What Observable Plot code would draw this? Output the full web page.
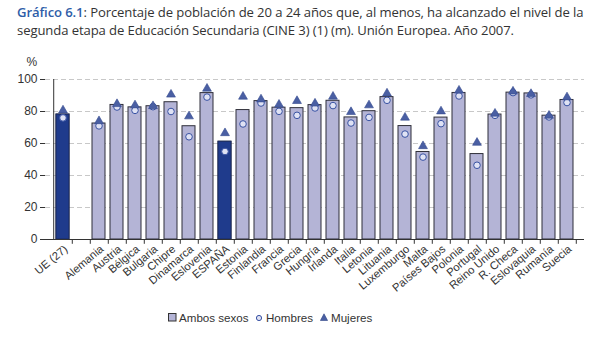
<!DOCTYPE html>
<html>
<head>
<meta charset="utf-8">
<script src="https://cdn.jsdelivr.net/npm/d3@7"></script>
<script src="https://cdn.jsdelivr.net/npm/@observablehq/plot@0.6"></script>
<style>
  html, body { margin: 0; padding: 0; background: #fff; width: 600px; height: 341px; overflow: hidden; }
  #title { font-family: "Open Sans", sans-serif; font-size: 13.1px; line-height: 18px; color: #333; padding: 3px 0 0 17px; height: 39px; box-sizing: border-box; white-space: nowrap; letter-spacing: -0.1px; }
  #title b { color: #2e5da8; font-weight: 600; }
  .lg { position: absolute; font-family: "Liberation Sans", Arial, sans-serif; font-size: 11.6px; color: #333; line-height: 14px; top: 311px; white-space: nowrap; }
  .lgs { position: absolute; }
</style>
</head>
<body>
<div id="title"><b>Gráfico 6.1</b>: Porcentaje de población de 20 a 24 años que, al menos, ha alcanzado el nivel de la<br>segunda etapa de Educación Secundaria (CINE 3) (1) (m). Unión Europea. Año 2007.</div>
<div id="chart"></div>
<svg class="lgs" style="left:168px; top:313px" width="9" height="9"><rect x="0.5" y="0.5" width="7.5" height="7.5" fill="#b4b4d6" stroke="#333"/></svg>
<div class="lg" style="left:179px">Ambos sexos</div>
<svg class="lgs" style="left:255px; top:314px" width="8" height="8"><circle cx="4" cy="4" r="2.6" fill="#dfe2f4" stroke="#3852a3"/></svg>
<div class="lg" style="left:266px">Hombres</div>
<svg class="lgs" style="left:320px; top:313px" width="8" height="8"><path d="M4 0.8 L7.6 7.5 L0.4 7.5 Z" fill="#4a5fa3" stroke="#2f4487" stroke-width="0.6"/></svg>
<div class="lg" style="left:331px">Mujeres</div>
<script>
const paises = ["UE (27)", " ", "Alemania", "Austria", "Bélgica", "Bulgaria", "Chipre", "Dinamarca", "Eslovenia", "ESPAÑA", "Estonia", "Finlandia", "Francia", "Grecia", "Hungría", "Irlanda", "Italia", "Letonia", "Lituania", "Luxemburgo", "Malta", "Países Bajos", "Polonia", "Portugal", "Reino Unido", "R. Checa", "Eslovaquia", "Rumanía", "Suecia"];
const ambos = [78.1, null, 72.5, 84.1, 82.6, 83.3, 85.8, 70.8, 91.5, 61.1, 80.9, 86.5, 82.4, 82.1, 84.0, 86.7, 76.3, 80.2, 89.0, 70.9, 54.7, 76.2, 91.6, 53.4, 78.1, 91.8, 91.3, 77.4, 87.2];
const hombres = [76.0, null, 71.0, 82.8, 80.7, 83.0, 80.0, 64.2, 89.0, 55.0, 72.2, 85.3, 80.1, 77.6, 82.2, 83.7, 72.8, 76.3, 87.0, 65.9, 51.5, 72.4, 89.7, 46.4, 77.6, 91.8, 90.4, 76.6, 85.6];
const mujeres = [80.7, null, 74.0, 84.7, 83.9, 83.4, 90.6, 77.0, 94.3, 66.5, 89.3, 87.6, 84.3, 86.6, 85.0, 89.3, 79.7, 83.9, 91.3, 76.2, 58.4, 80.1, 93.1, 60.5, 78.7, 92.5, 91.0, 77.4, 88.9];
const destacados = ["UE (27)", "ESPAÑA"];
const yTicks = [0, 20, 40, 60, 80, 100];

const data = paises.map((p, i) => ({pais: p, ambos: ambos[i], hombres: hombres[i], mujeres: mujeres[i]})).filter(d => d.ambos != null);

const W = 600, H = 264, ML = 45, MR = 16, MT = 40, MB = 64;
const step = (W - ML - MR) / paises.length;
const font = "Liberation Sans, Arial, sans-serif";

const chart = Plot.plot({
  width: W, height: H,
  marginLeft: ML, marginRight: MR, marginTop: MT, marginBottom: MB,
  style: {fontFamily: font, fontSize: "11px", color: "#333", background: "#fff"},
  x: {type: "band", domain: paises, paddingInner: 0.28, paddingOuter: 0.14, label: null},
  y: {domain: [0, 100], ticks: yTicks, label: null},
  marks: [
    Plot.ruleY(yTicks.filter(t => t > 0), {y: d => d, stroke: "#c8c8c8", strokeDasharray: "5,3", strokeWidth: 1}),
    Plot.barY(data, {x: "pais", y: "ambos", fill: "#b4b4d6", stroke: "#2f2f3a", strokeWidth: 1}),
    Plot.barY(data.filter(d => destacados.includes(d.pais)), {x: "pais", y: "ambos", fill: "#1f3b8c", stroke: "#1a2a5e", strokeWidth: 1}),
    Plot.dot(data, {x: "pais", y: "hombres", r: 3.3, fill: "#dfe2f4", stroke: "#3852a3", strokeWidth: 1}),
    Plot.dot(data, {x: "pais", y: "mujeres", symbol: "triangle", r: 3.3, fill: "#4a5fa3", stroke: "#34498e", strokeWidth: 0.6}),
    Plot.axisY({ticks: yTicks, tickSize: 5, tickPadding: 3, fontSize: 12, stroke: "#333", color: "#333"}),
    Plot.ruleX([0], {x: () => paises[0], dx: -step / 2, y1: 0, y2: 100, stroke: "#333"}),
    Plot.ruleY([0], {stroke: "#333"}),
    Plot.ruleX(paises, {x: d => d, dx: step / 2, y1: 0, y2: -3, stroke: "#333"}),
    Plot.axisX({tickSize: 0, tickRotate: -40, tickPadding: 8, dx: 3, fontSize: 11.2, color: "#333"}),
    Plot.text(["%"], {frameAnchor: "top-left", dx: -19, dy: -22, fontSize: 12, fill: "#333"})
  ]
});
document.getElementById("chart").appendChild(chart);
</script>
</body>
</html>
